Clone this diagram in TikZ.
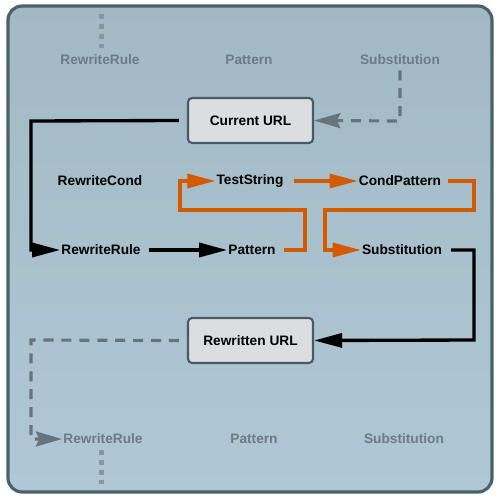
\documentclass[tikz,border=0pt]{standalone}
\usepackage{fontspec}
\setmainfont{Liberation Sans}
\usetikzlibrary{arrows.meta}
\definecolor{orng}{HTML}{D45A00}
\definecolor{gtext}{HTML}{6D7B83}
\definecolor{gline}{HTML}{66757D}
\definecolor{gdotc}{HTML}{8797A0}
\definecolor{boxfill}{HTML}{DCDDDF}
\definecolor{boxdraw}{HTML}{455C64}
\definecolor{frame}{HTML}{4A6169}
\definecolor{bgtop}{HTML}{A2B9C5}
\definecolor{bgbot}{HTML}{B0C8D6}
\tikzset{
  lbl/.style={font=\fontsize{7.8pt}{9pt}\selectfont\bfseries, inner sep=0.5pt, text=black},
  glbl/.style={lbl, text=gtext},
  urlbox/.style={lbl, draw=boxdraw, line width=1.2pt, fill=boxfill, rounded corners=2.3pt, minimum width=2.5cm, minimum height=0.9cm},
  blk/.style={draw=black, line width=1.9pt, -{Triangle[length=16pt,width=8pt]}},
  org/.style={draw=orng, line width=1.75pt, -{Triangle[length=16pt,width=8pt]}},
  gdash/.style={draw=gline, line width=1.8pt, dash pattern=on 5.7pt off 4.5pt, -{Stealth[length=15pt,width=8.5pt,inset=2pt]}},
  gdot/.style={draw=gdotc, line width=2.8pt, dash pattern=on 2.8pt off 2.8pt},
}
\begin{document}
\begin{tikzpicture}[x=0.02cm, y=-0.02cm]
\useasboundingbox (0,0) rectangle (500,500);
\fill[white] (0,0) rectangle (500,500);
\shade[top color=bgtop, bottom color=bgbot, rounded corners=8] (8,6) rectangle (492,492);
\draw[frame, line width=1.8pt, rounded corners=8] (8,6) rectangle (492,492);

% gray labels
\node[glbl] (grr1) at (100,60) {RewriteRule};
\node[glbl] (gp1) at (249,60) {Pattern};
\node[glbl] (gs1) at (400,60) {Substitution};
\node[glbl] (grr2) at (103,439) {RewriteRule};
\node[glbl] (gp2) at (254,439) {Pattern};
\node[glbl] (gs2) at (404,439) {Substitution};

% boxes
\node[urlbox] (cur) at (250.5,120.5) {Current URL};
\node[urlbox] (rew) at (250.5,340.5) {Rewritten URL};

% black labels
\node[lbl] (rc) at (100,181) {RewriteCond};
\node[lbl] (ts) at (250,181) {TestString};
\node[lbl] (cp) at (400,181) {CondPattern};
\node[lbl] (rr) at (101,250) {RewriteRule};
\node[lbl] (pat) at (252,250) {Pattern};
\node[lbl] (sub) at (402,250) {Substitution};

% dotted stubs
\coordinate (dt1) at (101.5,14);
\coordinate (db1) at (101.5,486);
\draw[gdot] (dt1) -- (101.5,50);
\draw[gdot] (101.5,450) -- (db1);

% gray dashed connectors
\draw[gdash] (gs1.south) ++(0,4) -- (400,121) -- (cur.east);
\draw[gdash] (rew.west) ++(-8,0) -- (31,340) -- (31,439) -- (grr2.west);

% black connectors
\draw[blk] (cur.west) ++(-8,0) -- (31,121) -- (31,250) -- (rr.west);
\draw[blk] (rr.east) ++(7,0) -- (pat.west);
\draw[blk] (sub.east) ++(8,0) -- (474,250) -- (474,340) -- (rew.east);

% orange connectors
\draw[org] (pat.east) ++(7,0) -- (305,250) -- (305,210) -- (180,210) -- (180,181) -- (ts.west);
\draw[org] (ts.east) ++(9,0) -- (cp.west);
\draw[org] (cp.east) ++(6,0) -- (474,181) -- (474,210) -- (325,210) -- (325,250) -- (sub.west);
\end{tikzpicture}
\end{document}
